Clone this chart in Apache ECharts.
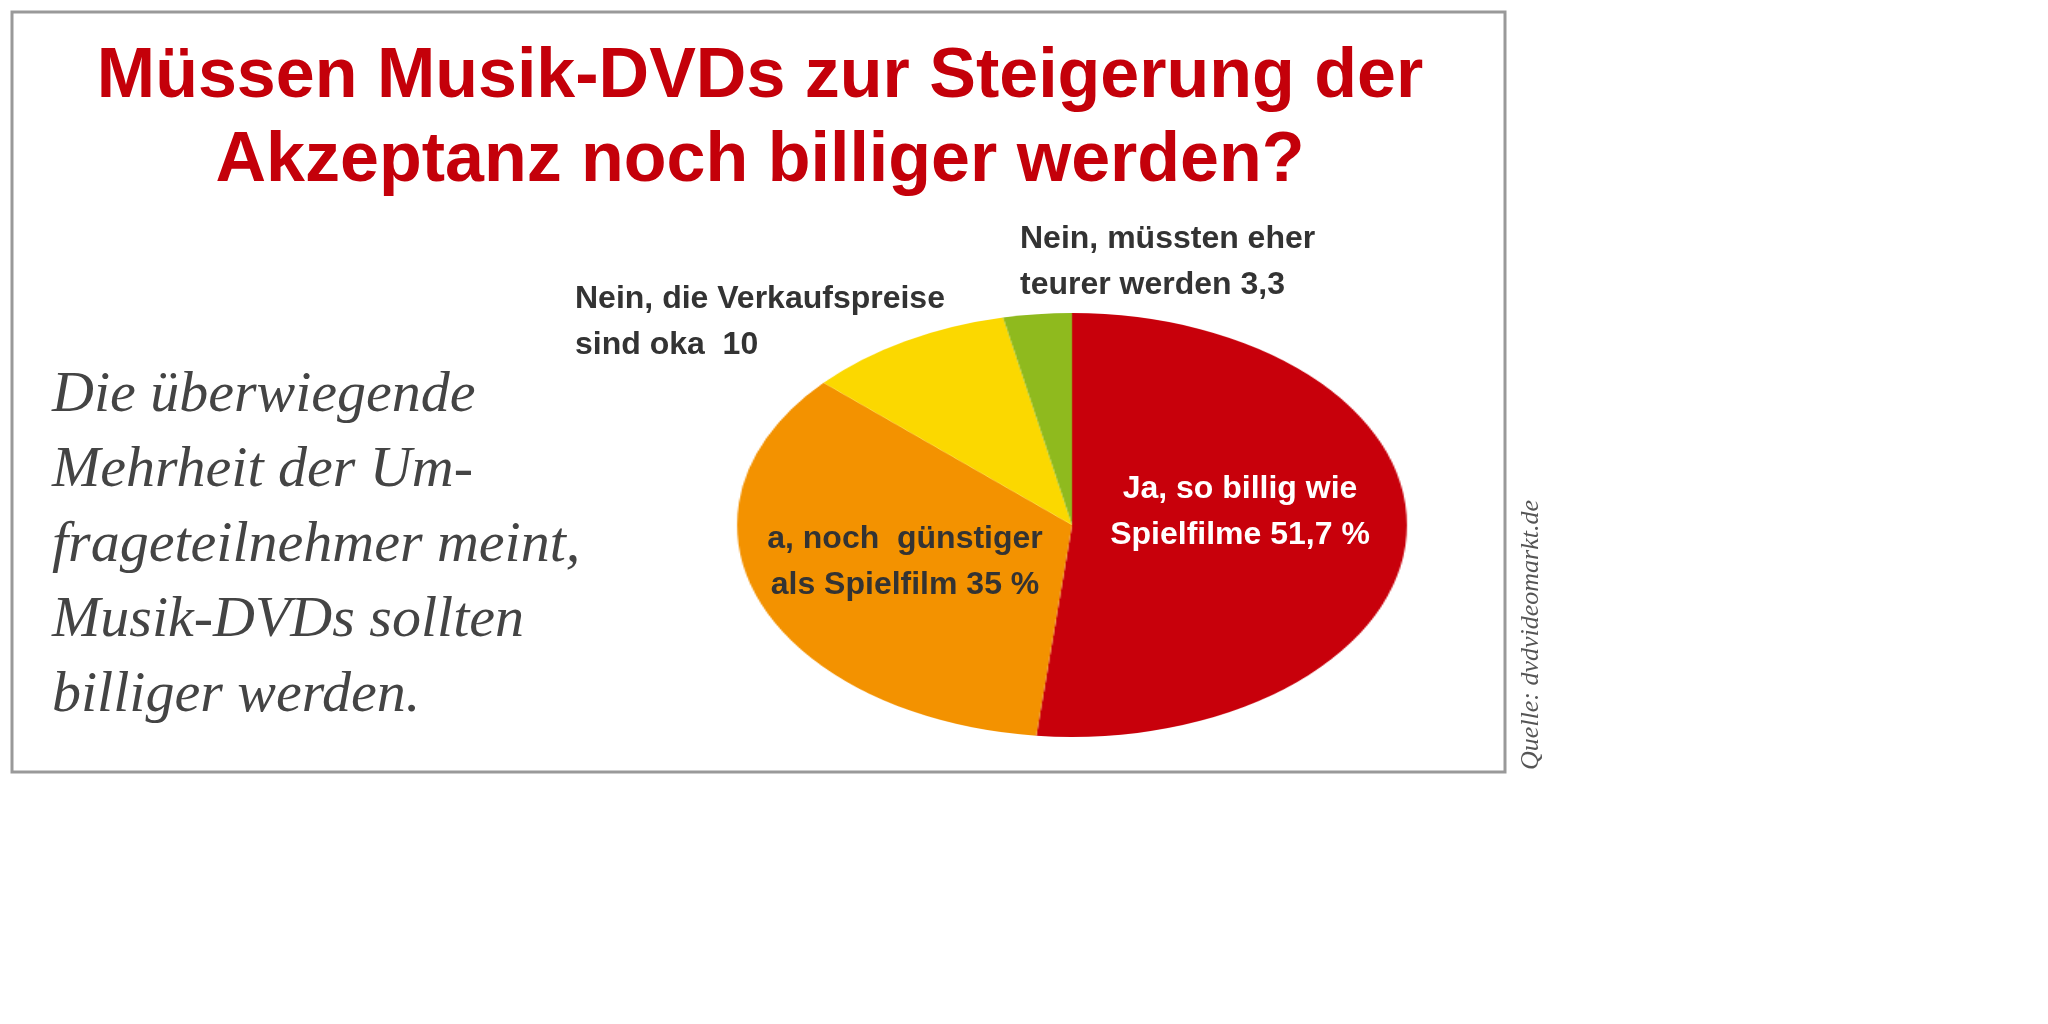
<!DOCTYPE html>
<html>
<head>
<meta charset="utf-8">
<script src="https://cdn.jsdelivr.net/npm/echarts@6/dist/echarts.min.js"></script>
<style>
  body { margin: 0; background: #fff; }
  #main { position: absolute; left: 0; top: 0; width: 2048px; height: 1024px; }
  /* pie is drawn as a circle and stretched into the ellipse of the original */
  #pie { position: absolute; left: 852px; top: 305px; width: 440px; height: 440px;
         transform: scaleX(1.58); transform-origin: 50% 50%; }
</style>
</head>
<body>
<div id="main"></div>
<div id="pie"></div>
<script>
// Daten
const categories = ["Ja, so billig wie Spielfilme", "a, noch  günstiger als Spielfilm",
                    "Nein, die Verkaufspreise sind oka", "Nein, müssten eher teurer werden"];
const values = [51.7, 35, 10, 3.3];
const labelLines = [
  ["Ja, so billig wie", "Spielfilme 51,7 %"],
  ["a, noch  günstiger", "als Spielfilm 35 %"],
  ["Nein, die Verkaufspreise", "sind oka  10"],
  ["Nein, müssten eher", "teurer werden 3,3"]
];
const colors = ["#c8000b", "#f39200", "#fbd800", "#8fba1e"];
const titleText = "Müssen Musik-DVDs zur Steigerung der\nAkzeptanz noch billiger werden?";
const bodyText = "Die überwiegende\nMehrheit der Um-\nfrageteilnehmer meint,\nMusik-DVDs sollten\nbilliger werden.";
const sourceText = "Quelle: dvdvideomarkt.de";

// Hintergrund, Titel, Texte
let main = echarts.init(document.getElementById("main"));
main.setOption({
  graphic: [
    { type: "rect", shape: { x: 12, y: 12, width: 1493, height: 760 },
      style: { fill: "#fff", stroke: "#999", lineWidth: 3 } },
    { type: "text", x: 760, y: 36,
      style: { text: titleText, fill: "#c4000a", align: "center",
               font: "bold 70px 'Liberation Sans', Arial, sans-serif", lineHeight: 84 } },
    { type: "text", x: 52, y: 358,
      style: { text: bodyText, fill: "#444", align: "left",
               font: "italic 58px 'Liberation Serif', 'DejaVu Serif', serif", lineHeight: 75 } },
    { type: "text", x: 1518, y: 770, rotation: Math.PI / 2,
      style: { text: sourceText, fill: "#555", align: "left",
               font: "italic 26px 'Liberation Serif', serif" } }
  ]
});

// Tortendiagramm
let pie = echarts.init(document.getElementById("pie"));
pie.setOption({
  animation: false,
  color: colors,
  series: [{
    type: "pie",
    radius: 212,
    center: ["50%", "50%"],
    startAngle: 90,
    clockwise: true,
    label: { show: false },
    labelLine: { show: false },
    data: categories.map(function (c, i) { return { name: c, value: values[i] }; })
  }]
});

// Beschriftungen obenauf in eigenem Layer
const labelPos = [
  { x: 1240, y: 512, align: "center", fill: "#fff" },
  { x: 905, y: 562, align: "center", fill: "#333" },
  { x: 575, y: 322, align: "left", fill: "#333" },
  { x: 1020, y: 262, align: "left", fill: "#333" }
];
let overlay = document.createElement("div");
overlay.style.cssText = "position:absolute;left:0;top:0;width:2048px;height:1024px;pointer-events:none;";
document.body.appendChild(overlay);
let lab = echarts.init(overlay);
lab.setOption({ graphic: labelLines.map(function (lines, i) {
  return {
    type: "text",
    x: labelPos[i].x,
    y: labelPos[i].y - 46,
    style: {
      text: lines.join("\n"),
      fill: labelPos[i].fill,
      font: "bold 32px 'Liberation Sans', Arial, sans-serif",
      lineHeight: 46,
      align: labelPos[i].align
    }
  };
}) });
</script>
</body>
</html>
